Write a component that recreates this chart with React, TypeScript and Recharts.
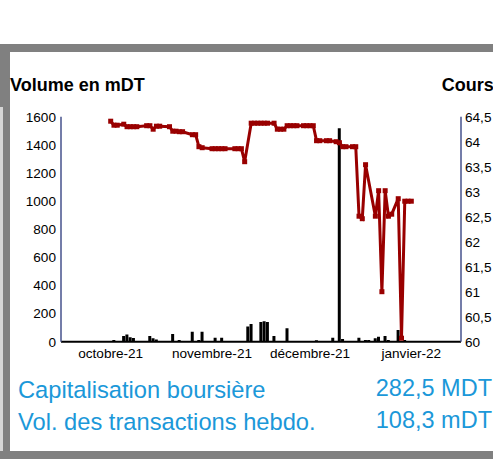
import React from 'react';
import { ComposedChart, Line, Bar, XAxis, YAxis } from 'recharts';

// cours (DT) par séance
const priceDates = [
  '2021-10-01', '2021-10-02', '2021-10-03', '2021-10-05', '2021-10-06', '2021-10-07', '2021-10-08', '2021-10-09',
  '2021-10-12', '2021-10-13', '2021-10-14', '2021-10-15', '2021-10-16', '2021-10-19', '2021-10-20', '2021-10-21',
  '2021-10-22', '2021-10-23', '2021-10-26', '2021-10-27', '2021-10-28', '2021-10-29', '2021-11-01', '2021-11-02',
  '2021-11-03', '2021-11-04', '2021-11-05', '2021-11-08', '2021-11-09', '2021-11-10', '2021-11-11', '2021-11-13',
  '2021-11-14', '2021-11-15', '2021-11-16', '2021-11-17', '2021-11-18', '2021-11-20', '2021-11-21', '2021-11-22',
  '2021-11-23', '2021-11-24', '2021-11-25', '2021-11-26', '2021-11-27', '2021-11-29', '2021-11-30', '2021-12-01',
  '2021-12-02', '2021-12-03', '2021-12-04', '2021-12-06', '2021-12-07', '2021-12-09', '2021-12-10', '2021-12-11',
  '2021-12-12', '2021-12-14', '2021-12-15', '2021-12-16', '2021-12-17', '2021-12-18', '2021-12-21', '2021-12-22',
  '2021-12-23', '2021-12-24', '2021-12-25', '2021-12-26', '2021-12-28', '2021-12-29', '2021-12-30', '2021-12-31',
  '2022-01-01',
];
const priceValues = [
  64.41, 64.33, 64.33, 64.35, 64.3, 64.3, 64.3, 64.3,
  64.32, 64.32, 64.25, 64.31, 64.31, 64.3, 64.21, 64.21,
  64.2, 64.2, 64.14, 64.14, 63.9, 63.88, 63.86, 63.86,
  63.86, 63.86, 63.86, 63.86, 63.86, 63.86, 63.6, 64.37,
  64.37, 64.37, 64.37, 64.37, 64.37, 64.37, 64.25, 64.25,
  64.25, 64.32, 64.32, 64.32, 64.32, 64.32, 64.32, 64.32,
  64.32, 64.02, 64.02, 64.02, 64.02, 64.0, 63.98, 63.9,
  63.9, 63.9, 63.9, 62.51, 62.46, 63.54, 62.51, 63.02,
  61.0, 63.02, 62.51, 62.55, 62.86, 60.07, 62.81, 62.81,
  62.81,
];

// volume (mDT)
const volumeDates = [
  '2021-10-02', '2021-10-05', '2021-10-06', '2021-10-07', '2021-10-08', '2021-10-13', '2021-10-14', '2021-10-15',
  '2021-10-20', '2021-10-22', '2021-10-26', '2021-10-28', '2021-10-29', '2021-11-02', '2021-11-04', '2021-11-12',
  '2021-11-13', '2021-11-16', '2021-11-17', '2021-11-18', '2021-11-20', '2021-11-24', '2021-12-03', '2021-12-08',
  '2021-12-10', '2021-12-11', '2021-12-16', '2021-12-18', '2021-12-19', '2021-12-21', '2021-12-22', '2021-12-24',
  '2021-12-25', '2021-12-28', '2021-12-30',
];
const volumeValues = [
  12, 40, 52, 31, 26, 40, 24, 16,
  55, 12, 70, 12, 70, 28, 28, 108,
  126, 140, 145, 140, 40, 95, 10, 28,
  1517, 20, 28, 12, 12, 24, 36, 40,
  12, 83, 12,
];

const monthTicks = ['2021-10-01', '2021-11-01', '2021-12-01', '2022-01-01'];
const monthLabels = ['octobre-21', 'novembre-21', 'décembre-21', 'janvier-22'];
const volumeTicks = [0, 200, 400, 600, 800, 1000, 1200, 1400, 1600];
const priceTicks = [60, 60.5, 61, 61.5, 62, 62.5, 63, 63.5, 64, 64.5];

const X_START = Date.parse('2021-09-15T19:00:00Z');
const X_END = Date.parse('2022-01-16T05:00:00Z');

const byTime: Record<number, { t: number; price: number | null; vol: number | null }> = {};
priceDates.forEach((d, i) => {
  const t = Date.parse(d);
  byTime[t] = byTime[t] || { t, price: null, vol: null };
  byTime[t].price = priceValues[i];
});
volumeDates.forEach((d, i) => {
  const t = Date.parse(d);
  byTime[t] = byTime[t] || { t, price: null, vol: null };
  byTime[t].vol = volumeValues[i];
});
const data = Object.values(byTime).sort((a, b) => a.t - b.t);

const tickTimes = monthTicks.map((d) => Date.parse(d));
const FONT = '"Liberation Sans", Arial, sans-serif';
const tick = { fontSize: 13.6, fill: '#000', fontFamily: FONT };
const RED = '#990000';
const BLUE = '#1b98d9';

const SquareDot = (props: any) => {
  const { cx, cy, key } = props;
  if (cx == null || cy == null) return <g key={key} />;
  return <rect key={key} x={cx - 2.5} y={cy - 2.5} width={5} height={5} fill={RED} />;
};

export default function App() {
  return (
    <div style={{ position: 'fixed', left: 0, top: 0, width: 493, height: 459, overflow: 'hidden', background: '#fff', fontFamily: FONT }}>
      {/* cadre */}
      <div style={{ position: 'absolute', left: 0, top: 44, width: 493, height: 8, background: '#808080' }} />
      <div style={{ position: 'absolute', left: 0, top: 44, width: 10, height: 415, background: '#808080' }} />
      <div style={{ position: 'absolute', left: 0, top: 107, width: 3, height: 344, background: '#d6d6d6' }} />
      <div style={{ position: 'absolute', left: 0, top: 451, width: 493, height: 8, background: '#808080' }} />

      <div style={{ position: 'absolute', left: 0, top: 0 }}>
        <ComposedChart width={520} height={380} data={data} margin={{ top: 116.7, right: 0, left: 0, bottom: 8.3 }}>
          <XAxis
            dataKey="t"
            type="number"
            domain={[X_START, X_END]}
            allowDataOverflow
            ticks={tickTimes}
            tickFormatter={(v: number) => monthLabels[tickTimes.indexOf(v)] ?? ''}
            tick={tick}
            tickLine={false}
            tickSize={5}
            tickMargin={2}
            axisLine={{ stroke: '#000', strokeWidth: 2 }}
            height={30}
            interval={0}
          />
          <YAxis
            yAxisId="vol"
            orientation="left"
            domain={[0, 1600]}
            ticks={volumeTicks}
            tick={tick}
            tickLine={false}
            tickSize={3}
            tickMargin={2}
            axisLine={{ stroke: '#46528c', strokeWidth: 1.5 }}
            width={61}
            interval={0}
          />
          <YAxis
            yAxisId="price"
            orientation="right"
            domain={[60, 64.5]}
            ticks={priceTicks}
            tickFormatter={(v: number) => String(v).replace('.', ',')}
            tick={{ ...tick, textAnchor: 'start' }}
            tickLine={false}
            tickSize={2}
            tickMargin={2}
            axisLine={{ stroke: '#46528c', strokeWidth: 1.5 }}
            width={59}
            interval={0}
          />
          <Line
            yAxisId="price"
            dataKey="price"
            stroke={RED}
            strokeWidth={3}
            dot={SquareDot}
            activeDot={false}
            connectNulls
            isAnimationActive={false}
          />
          <Bar yAxisId="vol" dataKey="vol" fill="#000" barSize={3} isAnimationActive={false} />
        </ComposedChart>
      </div>

      <svg width={493} height={459} style={{ position: 'absolute', left: 0, top: 0, pointerEvents: 'none' }}>
        <text x={10} y={90.7} fontSize={18} fontWeight="bold" fontFamily={FONT} fill="#000">Volume en mDT</text>
        <text x={441.7} y={90.7} fontSize={18} fontWeight="bold" fontFamily={FONT} fill="#000">Cours</text>
        <text x={18} y={398.3} fontSize={23.7} fontFamily={FONT} fill={BLUE}>Capitalisation boursière</text>
        <text x={18} y={430} fontSize={23.7} fontFamily={FONT} fill={BLUE}>Vol. des transactions hebdo.</text>
        <text x={492} y={396} fontSize={23.5} textAnchor="end" fontFamily={FONT} fill={BLUE}>282,5 MDT</text>
        <text x={492} y={427.5} fontSize={23.5} textAnchor="end" fontFamily={FONT} fill={BLUE}>108,3 mDT</text>
      </svg>
    </div>
  );
}
